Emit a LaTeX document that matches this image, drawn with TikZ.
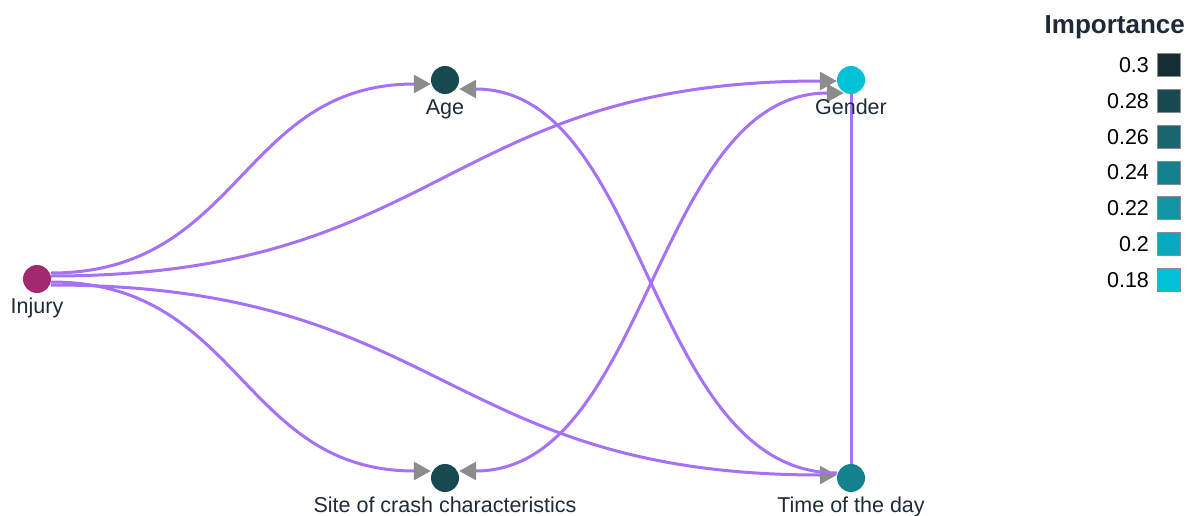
\documentclass[tikz,border=0pt]{standalone}
\usepackage{fontspec}
\setmainfont{Liberation Sans}
\usetikzlibrary{arrows.meta,positioning,backgrounds}

\definecolor{linkpurple}{RGB}{166,112,247}
\definecolor{tipgray}{RGB}{140,140,140}
\definecolor{textdark}{RGB}{30,42,54}
\definecolor{injurycol}{RGB}{163,40,110}
\definecolor{imp30}{RGB}{20,46,52}
\definecolor{imp28}{RGB}{22,74,80}
\definecolor{imp26}{RGB}{25,102,112}
\definecolor{imp24}{RGB}{20,130,142}
\definecolor{imp22}{RGB}{18,150,166}
\definecolor{imp20}{RGB}{8,168,190}
\definecolor{imp18}{RGB}{0,193,214}

\tikzset{
    feature node/.style={circle,inner sep=0pt,minimum size=28pt},
    every label/.style={inner sep=0pt,text=textdark,font=\fontsize{21.5}{25}\selectfont},
    link line/.style={draw=linkpurple,line width=3pt},
    link/.style={link line,-{Triangle[length=17pt,width=18pt,color=tipgray]}},
    both link/.style={link line,{Triangle[length=17pt,width=18pt,color=tipgray]}-{Triangle[length=17pt,width=18pt,color=tipgray]}},
    legend box/.style={draw=black!45,line width=0.8pt,minimum size=23pt,inner sep=0pt},
    legend num/.style={inner sep=0pt,font=\fontsize{21.5}{25}\selectfont}
    }

\begin{document}
\begin{tikzpicture}[x=1pt,y=-1pt,label distance=5pt]
    \useasboundingbox (0,0) rectangle (1188,516);
    % The features
    \node(injury)[feature node, fill=injurycol, label=below:Injury] at (37,279) {};
    \node(age)[feature node, fill=imp28, label=below:Age] at (445,80) {};
    \node(gender)[feature node, fill=imp18, label=below:Gender] at (851,80) {};
    \node(site)[feature node, fill=imp28, label=below:Site of crash characteristics] at (445,478) {};
    \node(time)[feature node, fill=imp24, label=below:Time of the day] at (851,478) {};

    % The links
    \begin{pgfonlayer}{background}
    \draw[link] ([yshift=6pt]injury.east) to[out=0,in=180,distance=190pt] ([yshift=-4pt]age.west);
    \draw[link] ([yshift=3pt]injury.east) to[out=0,in=180,distance=393pt] ([yshift=-1pt]gender.west);
    \draw[link] ([yshift=-3pt]injury.east) to[out=0,in=180,distance=190pt] ([yshift=7pt]site.west);
    \draw[link] ([yshift=-6pt]injury.east) to[out=0,in=180,distance=393pt] ([yshift=3pt]time.west);
    \draw[link] ([yshift=5pt]time.west) to[out=180,in=0,distance=189pt] ([yshift=-9pt]age.east);
    \draw[both link] ([yshift=7pt]site.east) to[out=0,in=180,distance=189pt] ([xshift=7pt,yshift=-13pt]gender.west);
    \draw[link line] (gender) -- (time);
    \end{pgfonlayer}

    % The legend
    \node(legtitle)[anchor=east, inner sep=0pt, text=textdark, font=\fontsize{26}{30}\selectfont\bfseries] at (1185,27) {Importance};
    \node(box30)[legend box, fill=imp30] at (1169,65) {};
    \node(box28)[legend box, fill=imp28, below=12pt of box30] {};
    \node(box26)[legend box, fill=imp26, below=12pt of box28] {};
    \node(box24)[legend box, fill=imp24, below=12pt of box26] {};
    \node(box22)[legend box, fill=imp22, below=12pt of box24] {};
    \node(box20)[legend box, fill=imp20, below=12pt of box22] {};
    \node(box18)[legend box, fill=imp18, below=12pt of box20] {};
    \node[legend num, left=8pt of box30] {0.3};
    \node[legend num, left=8pt of box28] {0.28};
    \node[legend num, left=8pt of box26] {0.26};
    \node[legend num, left=8pt of box24] {0.24};
    \node[legend num, left=8pt of box22] {0.22};
    \node[legend num, left=8pt of box20] {0.2};
    \node[legend num, left=8pt of box18] {0.18};
\end{tikzpicture}
\end{document}
